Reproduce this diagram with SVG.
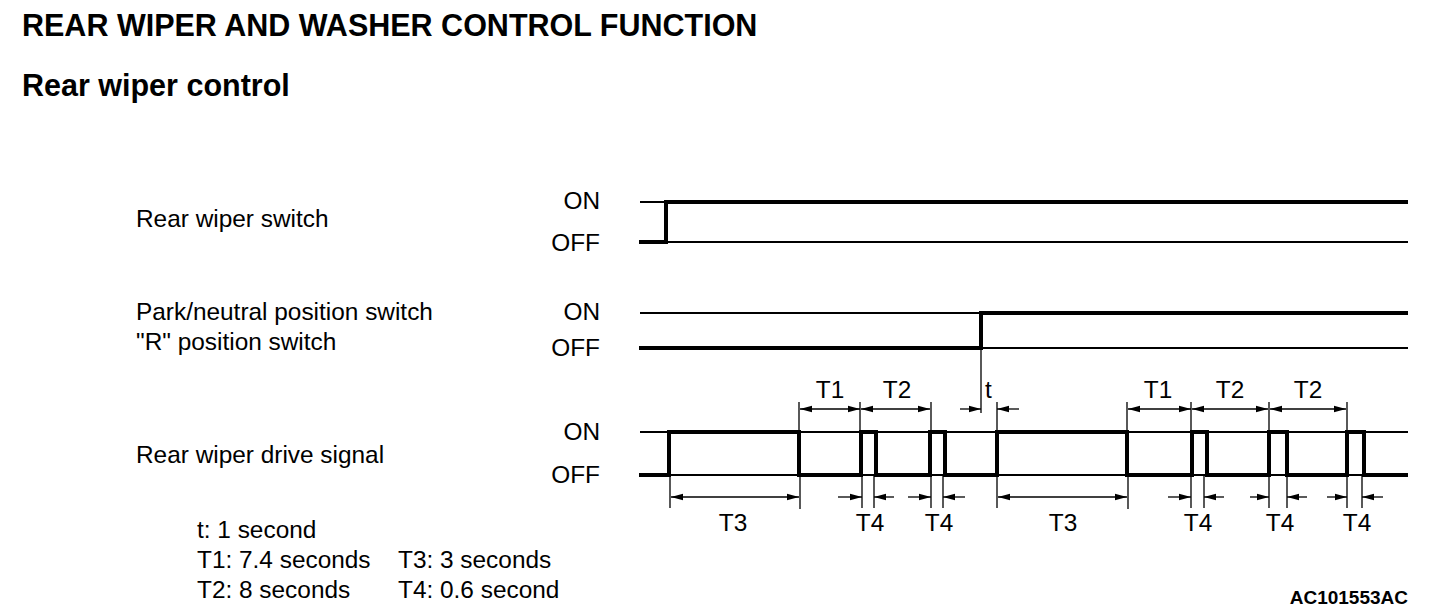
<svg xmlns="http://www.w3.org/2000/svg" width="1440" height="614" viewBox="0 0 1440 614">
<style>
text{font-family:"Liberation Sans",Arial,sans-serif;fill:#000}
.h{font-weight:bold;font-size:30.5px}
.lbl{font-size:24.4px}
.r{text-anchor:end}
.m{text-anchor:middle}
.thick{fill:none;stroke:#000;stroke-width:4;stroke-linejoin:miter}
.thin{fill:none;stroke:#000;stroke-width:2}
.dim{fill:none;stroke:#000;stroke-width:1.3}
.arr{fill:none;stroke:#000;stroke-width:1.3;marker-end:url(#ah)}
.arr2{fill:none;stroke:#000;stroke-width:1.3;marker-start:url(#ahs);marker-end:url(#ah)}
</style>
<defs>
<marker id="ah" markerWidth="12" markerHeight="8" refX="12" refY="4" orient="auto" markerUnits="userSpaceOnUse"><path d="M0,0.8 L12,4 L0,7.2 Z" fill="#000"/></marker>
<marker id="ahs" markerWidth="12" markerHeight="8" refX="0" refY="4" orient="auto" markerUnits="userSpaceOnUse"><path d="M12,0.8 L0,4 L12,7.2 Z" fill="#000"/></marker>
</defs>
<rect width="1440" height="614" fill="#fff"/>
<g id="title">
<text class="h" x="22" y="36">REAR WIPER AND WASHER CONTROL FUNCTION</text>
<text class="h" x="22" y="96">Rear wiper control</text>
</g>
<g id="row-rear-wiper-switch">
<text class="lbl" x="136" y="227">Rear wiper switch</text>
<text class="lbl r" x="600" y="209">ON</text>
<text class="lbl r" x="600" y="251">OFF</text>
<path class="thin" d="M640,202 H666 M666,242 H1408"/>
<path class="thick" d="M639,242 H666 V202 H1408"/>
</g>
<g id="row-park-switch">
<text class="lbl" x="136" y="320">Park/neutral position switch</text>
<text class="lbl" x="136" y="350">"R" position switch</text>
<text class="lbl r" x="600" y="320">ON</text>
<text class="lbl r" x="600" y="356">OFF</text>
<path class="thin" d="M640,313 H981 M981,348 H1408"/>
<path class="thick" d="M639,348 H981 V313 H1408"/>
</g>
<g id="row-drive-signal">
<text class="lbl" x="136" y="463">Rear wiper drive signal</text>
<text class="lbl r" x="600" y="440">ON</text>
<text class="lbl r" x="600" y="483">OFF</text>
<path class="thin" d="M640,432 H1408 M640,475 H1408"/>
<path class="thick" d="M639,475 H669 V432 H799 V475 H861 V432 H876 V475 H930 V432 H945 V475 H997 V432 H1127 V475 H1192 V432 H1207 V475 H1269 V432 H1287 V475 H1347 V432 H1364 V475 H1408"/>
</g>
<g id="connectors">
<path class="dim" d="M799,402 V432 M860,402 V432 M931,402 V432 M981,348 V413 M997,402 V432 M1127,402 V432 M1191,402 V432 M1269,402 V432 M1347,402 V432"/>
<path class="dim" d="M670,475 V508 M800,475 V509 M862,475 V508 M874,475 V508 M931,475 V508 M943,475 V508 M997,475 V508 M1128,475 V509 M1191,475 V508 M1204,475 V508 M1269,475 V508 M1287,475 V508 M1347,475 V508 M1362,475 V508"/>
<path class="arr2" d="M800,409 H860"/>
<path class="arr2" d="M861,409 H930"/>
<path class="arr" d="M960,409 H981"/>
<path class="arr" d="M1019,409 H997"/>
<path class="arr2" d="M1128,409 H1191"/>
<path class="arr2" d="M1192,409 H1268"/>
<path class="arr2" d="M1270,409 H1346"/>
<path class="arr2" d="M671,497 H799"/>
<path class="arr" d="M838,497 H862"/>
<path class="arr" d="M894,497 H874"/>
<path class="arr" d="M908,497 H931"/>
<path class="arr" d="M965,497 H943"/>
<path class="arr2" d="M998,497 H1127"/>
<path class="arr" d="M1168,497 H1191"/>
<path class="arr" d="M1224,497 H1204"/>
<path class="arr" d="M1250,497 H1269"/>
<path class="arr" d="M1307,497 H1287"/>
<path class="arr" d="M1327,497 H1347"/>
<path class="arr" d="M1383,497 H1362"/>
</g>
<g id="dim-labels">
<text class="lbl m" x="830" y="398">T1</text>
<text class="lbl m" x="897" y="398">T2</text>
<text class="lbl" x="985" y="398">t</text>
<text class="lbl m" x="1158" y="398">T1</text>
<text class="lbl m" x="1230" y="398">T2</text>
<text class="lbl m" x="1308" y="398">T2</text>
<text class="lbl m" x="733" y="531">T3</text>
<text class="lbl m" x="870" y="531">T4</text>
<text class="lbl m" x="939" y="531">T4</text>
<text class="lbl m" x="1063" y="531">T3</text>
<text class="lbl m" x="1198" y="531">T4</text>
<text class="lbl m" x="1280" y="531">T4</text>
<text class="lbl m" x="1357" y="531">T4</text>
</g>
<g id="legend">
<text class="lbl" x="197" y="538">t: 1 second</text>
<text class="lbl" x="197" y="568">T1: 7.4 seconds</text>
<text class="lbl" x="197" y="598">T2: 8 seconds</text>
<text class="lbl" x="398" y="568">T3: 3 seconds</text>
<text class="lbl" x="398" y="598">T4: 0.6 second</text>
</g>
<g id="code">
<text x="1408" y="604" class="r" style="font-weight:bold;font-size:19px">AC101553AC</text>
</g>
</svg>
